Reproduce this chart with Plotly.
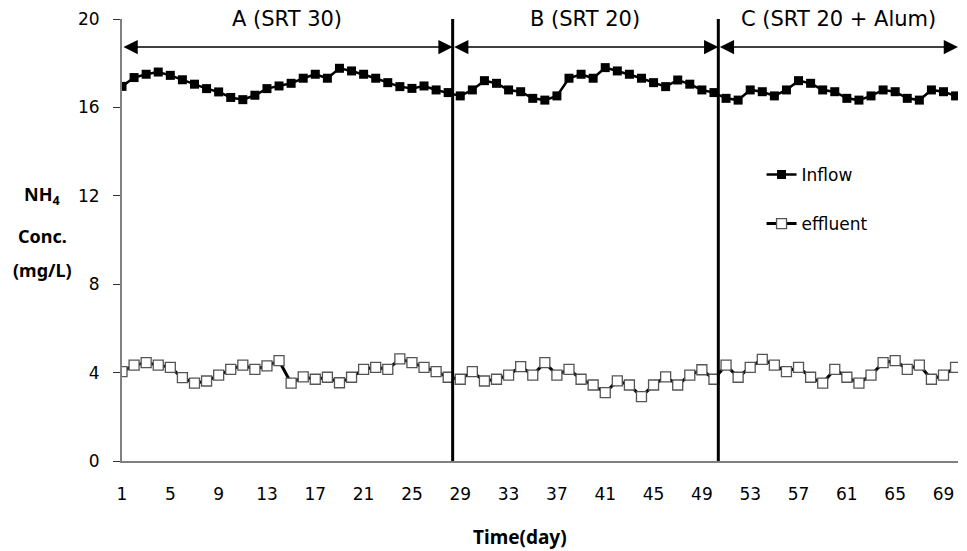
import plotly.graph_objects as go

days = list(range(1, 71))
inflow = [16.95, 17.35, 17.5, 17.6, 17.45, 17.25, 17.05, 16.85, 16.7, 16.45, 16.35, 16.55, 16.85, 16.97,
          17.09, 17.32, 17.5, 17.32, 17.77, 17.65, 17.5, 17.32, 17.12, 16.94, 16.86, 16.97, 16.79, 16.67,
          16.52, 16.79, 17.21, 17.09, 16.79, 16.71, 16.41, 16.33, 16.52, 17.32, 17.5, 17.32, 17.8, 17.65,
          17.5, 17.32, 17.12, 16.94, 17.24, 17.05, 16.79, 16.67, 16.41, 16.33, 16.79, 16.71, 16.52, 16.79,
          17.21, 17.09, 16.79, 16.71, 16.41, 16.33, 16.52, 16.79, 16.71, 16.41, 16.33, 16.79, 16.71, 16.52]
effluent = [4.04, 4.34, 4.45, 4.34, 4.24, 3.77, 3.52, 3.62, 3.89, 4.15, 4.34, 4.15, 4.30, 4.54,
            3.52, 3.81, 3.70, 3.79, 3.54, 3.79, 4.15, 4.24, 4.15, 4.62, 4.45, 4.24, 4.04, 3.79,
            3.70, 4.04, 3.62, 3.70, 3.89, 4.27, 3.89, 4.45, 3.89, 4.15, 3.70, 3.44, 3.09, 3.63,
            3.44, 2.91, 3.44, 3.81, 3.44, 3.89, 4.13, 3.70, 4.34, 3.79, 4.24, 4.60, 4.34, 4.04,
            4.24, 3.79, 3.52, 4.15, 3.79, 3.52, 3.89, 4.45, 4.54, 4.15, 4.34, 3.70, 3.89, 4.24]
x_ticks = list(range(1, 70, 4))
y_ticks = [0, 4, 8, 12, 16, 20]
phase_bounds = [1, 28.37, 50.36, 70.2]
phase_labels = ["A (SRT 30)", "B (SRT 20)", "C (SRT 20 + Alum)"]

FONT = "DejaVu Sans"
BFONT = "Noto Sans"

# pixel geometry of the plot area
W, H = 967, 551
L, R, T, B = 122, 9, 19, 90


def px_x(p):
    return (p - L) / (W - L - R)


def px_y(p):
    return (H - B - p) / (H - T - B)


fig = go.Figure()
fig.add_trace(go.Scatter(
    x=days, y=inflow, name="Inflow", mode="lines+markers",
    line=dict(color="black", width=2.5),
    marker=dict(symbol="square", size=9, color="black"),
    legendgroup="a"))
fig.add_trace(go.Scatter(
    x=days, y=effluent, name="effluent", mode="lines+markers",
    line=dict(color="black", width=3),
    marker=dict(symbol="square", size=10, color="white", line=dict(color="#555555", width=1.3)),
    legendgroup="b"))

# phase boundaries
for xb in phase_bounds[1:3]:
    fig.add_shape(type="line", x0=xb, x1=xb, y0=0, y1=20, xref="x", yref="y",
                  line=dict(color="black", width=3))

# double-headed arrows and labels
for i, lab in enumerate(phase_labels):
    x0, x1 = phase_bounds[i], phase_bounds[i + 1]
    fig.add_annotation(x=x1, y=18.73, ax=x0, ay=18.73, xref="x", yref="y", axref="x", ayref="y",
                       text="", showarrow=True, arrowhead=2, arrowside="end+start",
                       arrowsize=1.9, arrowwidth=1.5, arrowcolor="black")
    fig.add_annotation(x=(x0 + x1) / 2, y=20, xref="x", yref="y", text=lab, showarrow=False,
                       yanchor="middle", font=dict(size=21, color="black", family=FONT))

# y-axis title
for txt, yy in [("<b>NH<sub>4</sub></b>", 195), ("<b>Conc.</b>", 236), ("<b>(mg/L)</b>", 270)]:
    fig.add_annotation(x=px_x(42), y=px_y(yy), xref="paper", yref="paper", text=txt, showarrow=False,
                       xanchor="center", yanchor="middle", font=dict(size=18, color="black", family=BFONT))

# x-axis title
fig.add_annotation(x=px_x(520), y=px_y(537), xref="paper", yref="paper", text="<b>Time(day)</b>",
                   showarrow=False, xanchor="center", yanchor="middle",
                   font=dict(size=19, color="black", family=BFONT))

fig.update_layout(
    width=W, height=H,
    margin=dict(l=L, r=R, t=T, b=B),
    paper_bgcolor="white", plot_bgcolor="white",
    font=dict(family=FONT, size=17, color="black"),
    showlegend=True,
    legend=dict(x=0.765, y=0.688, xanchor="left", yanchor="top", bgcolor="rgba(0,0,0,0)",
                font=dict(size=17, family=FONT), tracegroupgap=24, itemwidth=30),
    xaxis=dict(range=[1, 70.2], tickmode="array", tickvals=x_ticks, ticks="",
               showline=True, linecolor="#808080", linewidth=2, showgrid=False, zeroline=False,
               ticklabelstandoff=17, tickfont=dict(size=17)),
    yaxis=dict(range=[0, 20], tickmode="array", tickvals=y_ticks, ticks="outside", ticklen=7,
               tickcolor="#333333", showline=True, linecolor="#808080", linewidth=2,
               showgrid=False, zeroline=False, ticklabelstandoff=10, tickfont=dict(size=17)),
)

fig.write_html("out.html")
